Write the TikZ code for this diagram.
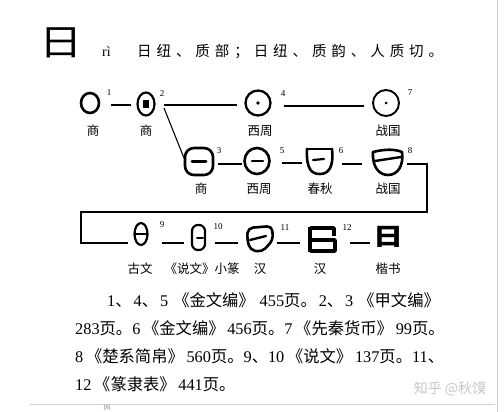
\documentclass[tikz,border=0pt]{standalone}
\usepackage{fontspec}
\setmainfont{Liberation Serif}
\newfontfamily\cjk{Noto Sans CJK SC}
\newfontfamily\cjkw{Noto Sans CJK SC}[LetterSpace=34]
\newfontfamily\ser{Liberation Serif}
\newcommand\cj[1]{{\cjk #1}}
\begin{document}
\begin{tikzpicture}[x=1pt,y=-1pt,
  glyph/.style={line width=2.6pt, line join=round, line cap=round},
  conn/.style={line width=1.1pt},
  num/.style={font=\ser\fontsize{9}{9}\selectfont, inner sep=0pt},
  capt/.style={font=\cjk\fontsize{12.5}{12.5}\selectfont, inner sep=0pt},
  para/.style={anchor=west, inner sep=0pt, font=\fontsize{16.3}{16.3}\selectfont},
  frame/.style={draw=black!18, line width=1pt},
]
\useasboundingbox (0,0) rectangle (504,412);
\clip (0,0) rectangle (504,412);
\fill[white] (0,0) rectangle (504,412);

% heading
\node[inner sep=0pt] (big) at (61,43) {\cjk\fontsize{36}{36}\selectfont\scalebox{1.2}[1]{日}};
\node[inner sep=0pt, anchor=west] (pin) at (102,52) {\fontsize{14}{14}\selectfont rì};
\node[inner sep=0pt, anchor=west] (head) at (137,52) {\cjkw\fontsize{14.5}{14.5}\selectfont 日纽、质部；日纽、质韵、人质切。};

% row 1 glyphs
\node[minimum size=20pt] (g1) at (90,103) {};
\draw[glyph] (g1.center) ellipse [x radius=9, y radius=10];
\node[minimum size=20pt] (g2) at (146,104) {};
\draw[glyph, line width=2.2pt] (g2.center) ellipse [x radius=8.5, y radius=11.5];
\fill (143,100) rectangle (149,108);
\node[minimum size=26pt] (g4) at (258,103) {};
\draw[glyph, line width=2.3pt] (g4.center) circle [radius=12.5];
\fill (g4.center) circle [radius=1.8];
\node[minimum size=26pt] (g7) at (386,103) {};
\draw[glyph, line width=1.9pt] (g7.center) circle [radius=13];
\fill (g7.center) circle [radius=1.5];

% row 2 glyphs
\node[minimum size=26pt] (g3) at (199,161) {};
\draw[glyph, rounded corners=9pt] (185,148) rectangle (213,175);
\draw[glyph, line width=3pt] (192,161) -- (206,161);
\node[minimum size=26pt] (g5) at (257,161) {};
\draw[glyph] (g5.center) ellipse [x radius=12.5, y radius=13];
\draw[glyph, line width=2.4pt] (252,161) -- (263,161);
\node[minimum size=26pt] (g6) at (319,161) {};
\draw[glyph] (307,149) -- (332,149);
\draw[glyph] (307,149) .. controls (306,170) and (312,174) .. (320,174) .. controls (328,174) and (334,168) .. (332,149);
\draw[glyph, line width=2.2pt] (313,160) -- (324,159);
\node[minimum size=26pt] (g8) at (388,161) {};
\draw[glyph] (373,152) .. controls (385,149) and (395,149) .. (402,152);
\draw[glyph] (373,152) .. controls (372,168) and (380,175) .. (388,175) .. controls (398,175) and (404,165) .. (402,152);
\draw[glyph, line width=2.4pt] (375,161) -- (401,157);

% row 3 glyphs
\node[minimum size=22pt] (g9) at (141,234) {};
\draw[glyph, line width=2.2pt] (g9.center) ellipse [x radius=6.5, y radius=11];
\draw[glyph, line width=1.8pt] (135,234) -- (147,234);
\node[minimum size=22pt] (g10) at (198,237) {};
\draw[glyph, line width=2.2pt, rounded corners=6pt] (192,225) rectangle (205,250);
\draw[glyph, line width=2pt] (197,238) -- (203,238);
\node[minimum size=26pt] (g11) at (260,238) {};
\draw[glyph, rounded corners=5pt] (248,228) -- (272,226) -- (273,240) -- (262,252) -- (250,250) -- (247,238) -- cycle;
\draw[glyph, line width=2.4pt] (250,240) -- (266,236);
\node[minimum size=26pt] (g12) at (322,239) {};
\draw[glyph, line width=3.4pt, line cap=butt] (310,228) -- (334,228) -- (334,236);
\draw[glyph, line width=3.4pt, line cap=butt] (310,227) -- (310,252);
\draw[glyph, line width=3.4pt, line cap=butt] (310,240) -- (335,240) -- (335,251) -- (310,251);
\node[inner sep=0pt] (g13) at (388,237) {\cjk\bfseries\fontsize{24}{24}\selectfont\scalebox{1.25}[1]{日}};

% numbers
\node[num] (n1) at (109,93) {1};
\node[num] (n2) at (162,94) {2};
\node[num] (n4) at (283,94) {4};
\node[num] (n7) at (410,93) {7};
\node[num] (n3) at (219,151) {3};
\node[num] (n5) at (282,151) {5};
\node[num] (n6) at (341,151) {6};
\node[num] (n8) at (410,151) {8};
\node[num] (n9) at (162,225) {9};
\node[num] (n10) at (218,227) {10};
\node[num] (n11) at (285,228) {11};
\node[num] (n12) at (347,228) {12};

% captions
\node[capt] (t1) at (93,131) {商};
\node[capt] (t2) at (146,131) {商};
\node[capt] (t4) at (260,131) {西周};
\node[capt] (t7) at (388,131) {战国};
\node[capt] (t3) at (201,189) {商};
\node[capt] (t5) at (259,189) {西周};
\node[capt] (t6) at (320,189) {春秋};
\node[capt] (t8) at (388,189) {战国};
\node[capt] (t9) at (140,269) {古文};
\node[capt] (t10) at (202,269) {《说文》小篆};
\node[capt] (t11) at (260,269) {汉};
\node[capt] (t12) at (320,269) {汉};
\node[capt] (t13) at (388,269) {楷书};

% connectors
\coordinate (a1) at (111,105); \coordinate (b1) at (131,105);
\coordinate (a2) at (164,105); \coordinate (b2) at (237,105);
\coordinate (a3) at (164,108); \coordinate (b3) at (184,158);
\coordinate (a4) at (284,106); \coordinate (b4) at (364,106);
\coordinate (a5) at (218,164); \coordinate (b5) at (242,164);
\coordinate (a6) at (282,163); \coordinate (b6) at (302,163);
\coordinate (a7) at (342,164); \coordinate (b7) at (362,164);
\coordinate (a8) at (407,164); \coordinate (k1) at (427,164);
\coordinate (k2) at (427,212); \coordinate (k3) at (81,212);
\coordinate (k4) at (81,243); \coordinate (b8) at (128,243);
\coordinate (a9) at (162,243); \coordinate (b9) at (184,243);
\coordinate (a10) at (215,243); \coordinate (b10) at (238,243);
\coordinate (a11) at (277,243); \coordinate (b11) at (300,243);
\coordinate (a12) at (350,243); \coordinate (b12) at (370,243);
\draw[conn] (a1) -- (b1);
\draw[conn] (a2) -- (b2);
\draw[conn] (a3) -- (b3);
\draw[conn] (a4) -- (b4);
\draw[conn] (a5) -- (b5);
\draw[conn] (a6) -- (b6);
\draw[conn] (a7) -- (b7);
\draw[conn, line join=miter] (a8) -- (k1) -- (k2) -- (k3) -- (k4) -- (b8);
\draw[conn] (a9) -- (b9);
\draw[conn] (a10) -- (b10);
\draw[conn] (a11) -- (b11);
\draw[conn] (a12) -- (b12);

% paragraph
\node[para] (p1) at (107,300) {1\cj{、}\hspace{2pt}4\cj{、}\hspace{2pt}5\hspace{5pt}\cj{《金文编》}\hspace{5pt}455\cj{页。}\hspace{2pt}2\cj{、}\hspace{2pt}3\hspace{5pt}\cj{《甲文编》}};
\node[para] (p2) at (75,328) {283\cj{页。}6\,\cj{《金文编》}\,456\cj{页。}7\,\cj{《先秦货币》}\,99\cj{页。}};
\node[para] (p3) at (75,356) {8\,\cj{《楚系简帛》}\,560\cj{页。}9\cj{、}10\,\cj{《说文》}\,137\cj{页。}11\cj{、}};
\node[para] (p4) at (75,384) {12\,\cj{《篆隶表》}\,441\cj{页。}};

% watermark and frame
\node[inner sep=0pt, text=black!22] (wm) at (450,389) {\cjk\fontsize{14}{14}\selectfont 知乎 @秋馍};
\draw[frame] (30,404) -- (495,404);
\draw[frame] (497,0) -- (497,412);
\node[inner sep=0pt, text=black!60] (ref) at (107,408.3) {\ser\fontsize{6}{6}\selectfont [9]};
\end{tikzpicture}
\end{document}
